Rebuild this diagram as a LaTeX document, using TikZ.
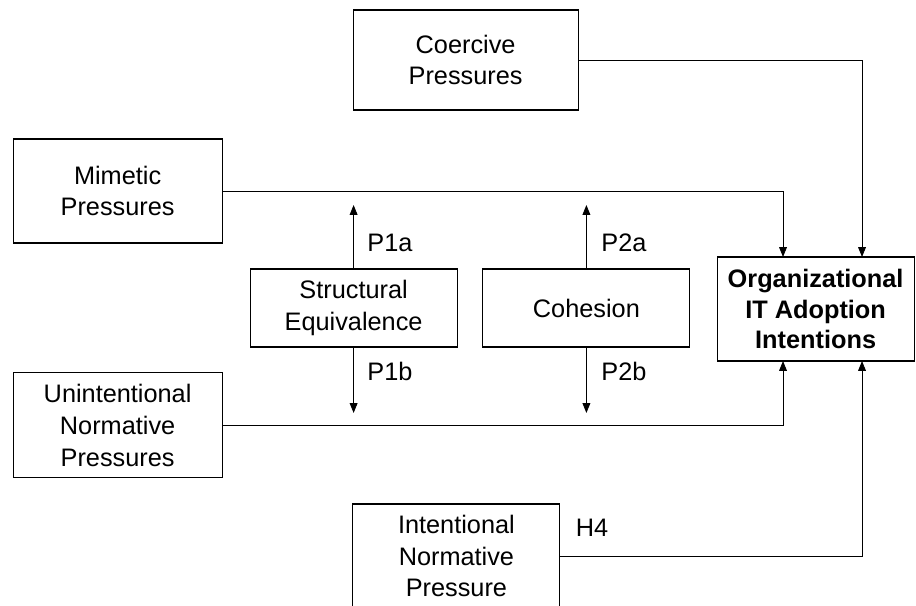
\documentclass[tikz,border=0pt]{standalone}
\usepackage{fontspec}
\setmainfont{Liberation Sans}
\usepackage{tikz}
\usetikzlibrary{arrows.meta, calc}
\tikzset{
  bx/.style={draw=black, fill=white, line width=0.8pt,
             minimum width=#1, align=center,
             font=\fontsize{18}{22.5}\selectfont},
  lbl/.style={font=\fontsize{18}{22.5}\selectfont, inner sep=0pt},
  arr/.style={-{Triangle[length=7pt, width=5.5pt]}, line width=0.7pt},
}

\begin{document}
\begin{tikzpicture}[line width=0.7pt]
    \useasboundingbox (0,0) rectangle (22.9,15.125);
    \clip (0,0) rectangle (22.9,15.125);

    % ─── Institutional pressures ───────────────────────────────────────
    \node[bx=5.625cm, minimum height=2.5cm] (coer) at (11.64, 13.625) {Coercive\\Pressures};
    \node[bx=5.225cm, minimum height=2.6cm] (mim) at (2.94, 10.35) {Mimetic\\Pressures};
    \node[bx=5.225cm, minimum height=2.625cm] (unint) at (2.94, 4.49) {Unintentional\\Normative\\Pressures};
    \node[bx=5.175cm, minimum height=2.6cm] (intn) at (11.41, 1.225) {Intentional\\Normative\\Pressure};

    % ─── Network moderators ────────────────────────────────────────────
    \node[bx=5.175cm, minimum height=1.95cm] (se) at (8.84, 7.425) {Structural\\Equivalence};
    \node[bx=5.175cm, minimum height=1.95cm] (coh) at (14.66, 7.425) {Cohesion};

    % ─── Outcome ───────────────────────────────────────────────────────
    \node[bx=4.925cm, minimum height=2.6cm, font=\fontsize{18}{21.5}\selectfont\bfseries]
      (org) at (20.39, 7.4) {Organizational\\IT Adoption\\Intentions};

    % arrow ends on the outcome box
    \coordinate (orgTL) at (19.575, 8.7);
    \coordinate (orgTR) at (21.55, 8.7);
    \coordinate (orgBL) at (19.575, 6.1);
    \coordinate (orgBR) at (21.55, 6.1);

    \draw[arr] (coer.east) -| (orgTR);
    \draw[arr] (mim.east) -| (orgTL);
    \draw[arr] (unint.east) -| (orgBL);
    \draw[arr] (intn.east) -| (orgBR);

    % moderating arrows
    \coordinate (seUp) at (8.84, 10.0);
    \coordinate (seDn) at (8.84, 4.8);
    \coordinate (cohUp) at (14.66, 10.0);
    \coordinate (cohDn) at (14.66, 4.8);
    \draw[arr] (se.north) -- (seUp);
    \draw[arr] (se.south) -- (seDn);
    \draw[arr] (coh.north) -- (cohUp);
    \draw[arr] (coh.south) -- (cohDn);

    % path labels
    \node[lbl] (p1a) at (9.75, 9.05) {P1a};
    \node[lbl] (p1b) at (9.75, 5.83) {P1b};
    \node[lbl] (p2a) at (15.6, 9.05) {P2a};
    \node[lbl] (p2b) at (15.6, 5.83) {P2b};
    \node[lbl] (h4) at (14.8, 1.925) {H4};

  \end{tikzpicture}
\end{document}
